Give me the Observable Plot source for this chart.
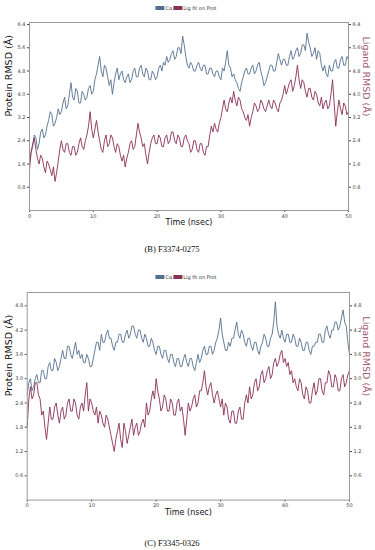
<!DOCTYPE html>
<html>
<head>
<meta charset="utf-8">
<script src="https://cdn.jsdelivr.net/npm/d3@7"></script>
<script src="https://cdn.jsdelivr.net/npm/@observablehq/plot@0.6"></script>
<style>
  html, body { margin: 0; padding: 0; background: #fff; }
  #wrap { position: relative; width: 375px; height: 550px; overflow: hidden; font-family: "DejaVu Sans", sans-serif; }
  .abs { position: absolute; }
  .legend { font-size: 5px; color: #333; display: flex; align-items: center; white-space: nowrap; transform: translateX(-50%); }
  .sw { display: inline-block; width: 9px; height: 4px; margin-right: 1px; }
  .cap { font-family: "Liberation Serif", "DejaVu Serif", serif; font-size: 8.5px; color: #111; transform: translate(-50%, -50%); white-space: nowrap; }
</style>
</head>
<body>
<div id="wrap"></div>
<script>
// ---------- data ----------
const timeMax = 50;
const xTicks = [0, 10, 20, 30, 40, 50];
const seriesNames = ["Cα", "Lig fit on Prot"];
const proteinColor = "#55708f";
const ligandColor = "#8a3052";

// Panel (B) F3374-0275, sampled every 0.25 ns
const captionB = "(B) F3374-0275";
const yTicksB = [0.8, 1.6, 2.4, 3.2, 4.0, 4.8, 5.6, 6.4];
const proteinB = [
  1.7,2.0,2.2,2.6,2.5,2.1,2.3,2.7,2.8,2.5,2.6,2.9,3.1,3.4,3.3,2.9,3.0,3.2,3.5,3.3,3.4,3.7,3.9,3.5,3.6,4.0,4.4,3.9,3.8,4.2,4.1,3.7,3.7,4.1,4.0,3.8,3.9,4.2,4.3,4.0,
  4.1,4.5,4.7,5.0,5.3,4.8,4.6,5.0,4.9,4.6,4.3,4.5,4.0,4.4,4.7,4.9,4.5,4.7,4.8,4.5,4.4,4.6,4.7,4.4,4.5,4.8,4.9,4.6,4.6,4.9,5.0,4.7,4.6,4.9,4.8,4.5,4.5,4.8,4.7,4.5,
  4.6,4.9,5.0,4.8,5.1,5.0,5.3,5.1,5.2,5.4,5.5,5.2,5.3,5.6,5.6,5.4,6.0,5.7,5.3,5.0,4.9,5.1,5.0,4.8,4.8,5.0,5.1,4.9,4.8,5.0,5.0,4.7,4.7,4.9,4.9,4.7,4.6,4.8,4.8,4.6,
  4.5,4.9,4.8,5.1,5.5,5.0,4.9,4.6,4.7,4.5,4.4,4.2,4.1,4.4,4.6,4.8,4.9,4.7,4.7,4.9,5.0,4.7,4.8,5.0,5.1,4.8,4.6,4.3,4.4,4.6,4.8,5.0,5.0,4.8,4.8,5.1,5.4,5.2,5.0,5.2,
  5.2,5.0,5.0,5.3,5.5,5.2,5.3,5.5,5.6,5.3,5.4,5.7,5.7,5.5,6.1,5.8,5.6,5.3,5.4,5.6,5.2,5.5,5.4,5.0,4.8,5.0,4.7,4.6,5.0,4.8,4.8,5.1,5.2,4.9,4.9,5.2,5.3,5.0,5.0,5.3,5.2];
const ligandB = [
  1.4,2.0,2.3,2.5,2.1,1.8,1.6,1.9,1.8,1.5,1.3,1.7,1.6,1.4,1.2,1.5,1.0,1.3,1.7,2.1,2.4,2.1,2.0,2.3,2.3,2.0,1.9,2.2,2.2,1.9,2.0,2.3,2.5,2.2,2.1,2.4,2.6,2.9,3.4,2.8,
  2.5,2.8,3.1,2.7,2.4,2.1,2.0,2.4,2.6,2.2,2.3,2.6,2.5,2.2,2.0,2.3,2.2,1.9,1.7,1.9,1.5,1.8,2.0,2.3,2.4,2.1,2.2,2.6,3.0,2.7,2.5,2.2,2.3,1.9,1.6,2.0,2.3,2.5,2.6,2.3,
  2.3,2.6,2.5,2.2,2.2,2.5,2.6,2.3,2.4,2.7,2.7,2.4,2.3,2.6,2.5,2.2,2.2,2.5,2.6,2.4,2.3,2.0,2.1,2.4,2.4,2.1,2.0,2.3,2.3,2.0,1.9,2.2,2.2,2.6,2.9,2.7,3.0,2.8,2.7,3.0,
  3.2,3.5,3.8,3.5,3.4,3.7,3.9,3.7,4.1,3.8,3.6,3.9,3.8,3.5,3.4,3.2,3.1,3.3,2.9,3.2,3.4,3.7,3.6,3.4,3.5,3.8,3.7,3.5,3.4,3.6,3.8,3.6,3.5,3.8,3.7,3.5,3.4,3.7,3.8,4.0,
  4.3,4.0,4.2,4.4,4.5,4.1,4.3,4.6,5.0,4.5,4.2,4.5,4.4,4.1,3.9,4.2,4.2,3.9,3.8,4.1,4.0,3.7,3.6,3.9,3.5,3.7,3.8,3.5,3.6,4.0,4.5,3.7,2.9,3.4,3.8,3.5,3.3,3.7,3.6,3.3,3.4];

// Panel (C) F3345-0326, sampled every 0.25 ns
const captionC = "(C) F3345-0326";
const yTicksC = [0.6, 1.2, 1.8, 2.4, 3.0, 3.6, 4.2, 4.8];
const proteinC = [
  2.6,2.9,3.0,2.7,2.8,3.0,3.1,2.9,2.9,3.2,3.2,3.0,3.0,3.3,3.4,3.2,3.2,3.5,3.4,3.2,3.3,3.5,3.7,3.5,3.5,3.8,3.8,3.6,3.5,3.7,3.9,3.6,3.7,3.5,3.6,3.4,3.4,3.6,3.5,3.3,
  3.3,3.5,3.7,3.9,3.9,3.7,4.1,3.9,3.9,4.1,4.2,4.0,4.0,3.8,3.7,3.9,3.9,4.1,4.1,3.9,3.9,4.1,4.2,4.0,4.1,4.3,4.3,4.1,4.0,4.2,4.2,4.0,3.9,4.1,4.0,3.8,3.8,4.0,3.9,3.7,
  3.6,3.8,3.8,3.6,3.5,3.7,3.7,3.5,3.4,3.6,3.6,3.4,3.3,3.5,3.5,3.3,3.3,3.5,3.6,3.4,3.3,3.5,3.5,3.3,3.2,3.4,3.6,3.4,3.5,3.7,3.8,3.6,3.6,3.8,3.8,3.6,3.7,3.9,4.0,4.2,
  4.5,4.1,3.9,3.7,3.7,3.9,3.8,4.0,4.0,4.2,4.4,4.1,4.0,4.2,4.1,3.9,3.8,4.0,4.0,3.8,3.7,3.9,3.9,3.7,3.6,3.8,3.9,4.1,4.0,3.8,3.8,4.0,4.1,4.4,4.9,4.3,4.1,4.0,4.2,4.0,
  3.9,4.1,4.1,3.9,3.9,4.1,4.0,3.8,3.8,4.0,3.9,3.7,3.7,3.9,3.9,3.7,3.6,3.8,3.8,3.9,3.9,4.1,4.1,3.9,3.9,4.2,4.3,4.1,4.0,4.2,4.2,4.4,4.4,4.2,4.3,4.5,4.7,4.4,4.3,3.9,3.6];
const ligandC = [
  1.8,2.5,2.8,2.5,2.6,2.9,2.9,2.6,2.5,2.1,2.2,1.8,1.5,1.9,2.3,2.0,2.0,2.3,2.4,2.1,1.9,2.2,2.3,2.0,2.1,2.4,2.5,2.2,2.2,2.5,2.4,2.1,2.0,2.3,2.4,2.2,2.6,2.9,2.2,2.5,
  2.4,2.2,2.1,2.3,1.9,2.2,2.1,1.9,1.8,2.1,2.0,1.8,1.6,1.4,1.2,1.5,1.7,1.9,1.5,1.3,1.9,1.7,1.4,1.6,1.8,2.0,1.6,1.8,1.9,1.6,1.7,1.9,2.0,1.8,2.4,2.1,2.2,2.5,2.7,2.5,
  3.0,2.7,2.5,2.2,2.3,2.6,2.5,2.2,2.2,2.5,2.4,2.1,2.1,2.4,2.5,2.2,2.3,2.0,1.6,2.0,2.4,2.2,2.3,2.5,2.6,2.3,2.4,2.7,2.7,2.9,3.2,2.8,2.6,2.8,2.9,2.6,2.4,2.6,2.7,2.5,
  2.3,2.5,2.1,2.4,2.3,2.0,1.9,2.2,2.2,1.9,1.9,2.2,2.3,2.0,2.0,2.4,2.6,2.4,2.8,2.5,2.6,2.9,3.0,2.7,2.8,3.1,3.2,2.9,3.0,3.2,3.3,3.0,3.1,3.4,3.5,3.3,3.4,3.6,3.7,3.4,
  3.5,3.3,3.4,3.1,3.2,2.9,3.0,2.8,2.7,3.0,2.9,2.6,2.5,2.8,2.7,2.4,2.4,2.7,2.9,2.6,2.7,3.0,3.0,2.7,2.6,2.9,2.9,3.2,3.1,2.8,2.8,3.1,3.0,2.7,2.7,3.0,3.1,2.8,2.9,3.1,3.2];

// ---------- drawing ----------
const wrap = document.getElementById("wrap");

function toRows(values, series) {
  const n = values.length;
  return values.map((v, i) => ({ t: i * timeMax / (n - 1), v, series }));
}

function panel({ top, height, marginTop, marginBottom, marginLeft, marginRight, yMax, yTicks, protein, ligand, legendY, captionY, caption, timeDy }) {
  const rows = toRows(protein, seriesNames[0]).concat(toRows(ligand, seriesNames[1]));
  const fmt = d => d.toFixed(1);
  const chart = Plot.plot({
    width: 375,
    height,
    marginTop, marginBottom, marginLeft, marginRight,
    style: { fontFamily: "DejaVu Sans, sans-serif", background: "transparent" },
    x: { domain: [0, timeMax] },
    y: { domain: [0, yMax] },
    color: { domain: seriesNames, range: [proteinColor, ligandColor] },
    marks: [
      Plot.axisX({ ticks: xTicks, tickSize: 2, tickPadding: 1.5, fontSize: 5, color: "#444", label: null }),
      Plot.axisY({ anchor: "left", ticks: yTicks, tickFormat: fmt, tickSize: 2, tickPadding: 2, fontSize: 5, color: "#444", label: null }),
      Plot.axisY({ anchor: "right", ticks: yTicks, tickFormat: fmt, tickSize: 2, tickPadding: 2, fontSize: 5, color: "#444", label: null }),
      Plot.lineY(rows, { x: "t", y: "v", stroke: "series", z: "series", strokeWidth: 0.9, curve: "linear" }),
      Plot.frame({ stroke: "#9a9a9a", strokeWidth: 1 }),
      Plot.text(["Protein RMSD (Å)"], { frameAnchor: "left", rotate: -90, dx: -marginLeft + 8, fontSize: 9.5, fill: "#111" }),
      Plot.text(["Ligand RMSD (Å)"], { frameAnchor: "right", rotate: 90, dx: marginRight - 9, fontSize: 9.5, fill: "#a55a74" }),
      Plot.text(["Time (nsec)"], { frameAnchor: "bottom", dy: timeDy, fontSize: 8, fill: "#111" })
    ]
  });
  chart.classList.add("abs");
  chart.style.left = "0px";
  chart.style.top = top + "px";
  wrap.appendChild(chart);

  const leg = document.createElement("div");
  leg.className = "abs legend";
  leg.style.left = "186px";
  leg.style.top = (legendY - 3) + "px";
  leg.innerHTML = `<span class="sw" style="background:${proteinColor}"></span><span>${seriesNames[0]}</span>` +
    `<span class="sw" style="background:${ligandColor};margin-left:1px"></span><span>${seriesNames[1]}</span>`;
  wrap.appendChild(leg);

  const cap = document.createElement("div");
  cap.className = "abs cap";
  cap.style.left = "172px";
  cap.style.top = captionY + "px";
  cap.textContent = caption;
  wrap.appendChild(cap);
}

panel({ top: 0, height: 235, marginTop: 22, marginBottom: 25, marginLeft: 29, marginRight: 27,
  yMax: 6.47, yTicks: yTicksB, protein: proteinB, ligand: ligandB,
  legendY: 8, captionY: 249, caption: captionB, timeDy: 14 });

panel({ top: 270, height: 250, marginTop: 22, marginBottom: 20.4, marginLeft: 26.7, marginRight: 26,
  yMax: 5.13, yTicks: yTicksC, protein: proteinC, ligand: ligandC,
  legendY: 277, captionY: 543, caption: captionC, timeDy: 14.5 });
</script>
</body>
</html>
